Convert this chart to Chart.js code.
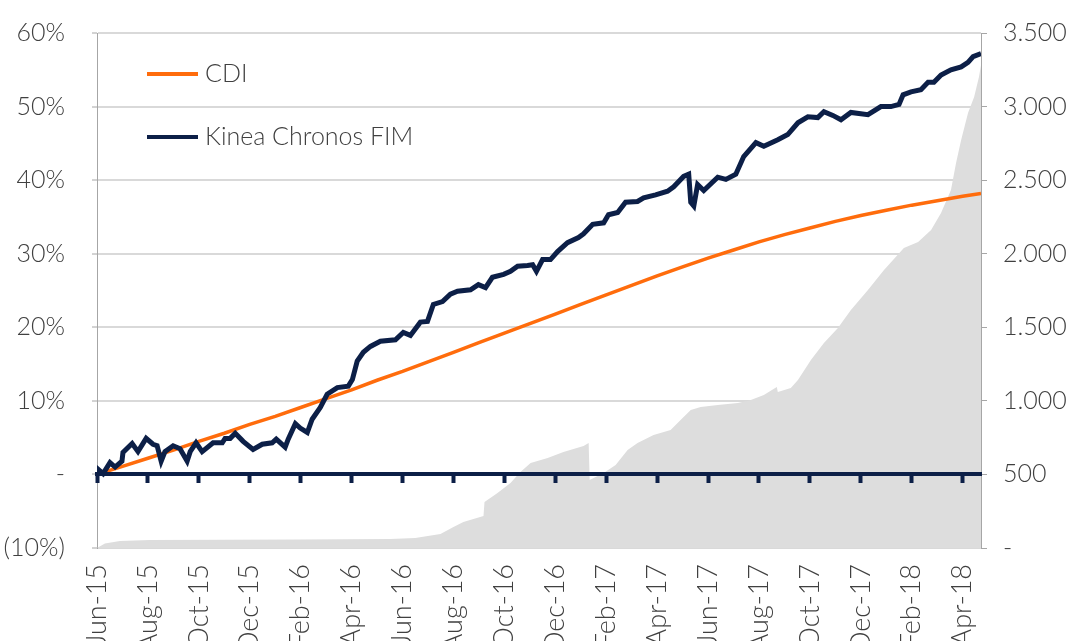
<!DOCTYPE html>
<html>
<head>
<meta charset="utf-8">
<script src="https://cdn.jsdelivr.net/npm/chart.js@4.4.0/dist/chart.umd.min.js"></script>
<style>
  html, body { margin: 0; padding: 0; background: #fff; overflow: hidden; }
  #wrap { position: relative; width: 1070px; height: 680px; }
</style>
</head>
<body>
<div id="wrap"><canvas id="chart"></canvas></div>
<script>
// x values are months counted from Jun-15
const tickMonths = [0, 2, 4, 6, 8, 10, 12, 14, 16, 18, 20, 22, 24, 26, 28, 30, 32, 34];
const tickLabels = ["Jun-15", "Aug-15", "Oct-15", "Dec-15", "Feb-16", "Apr-16", "Jun-16", "Aug-16", "Oct-16",
  "Dec-16", "Feb-17", "Apr-17", "Jun-17", "Aug-17", "Oct-17", "Dec-17", "Feb-18", "Apr-18"];
const lastMonth = 34.72;

// Kinea Chronos FIM, cumulative return (%)
const fundMonths = [0, 0.04, 0.24, 0.51, 0.71, 0.98, 1.02, 1.38, 1.61, 1.93, 2.2, 2.36, 2.52, 2.67, 2.99, 3.26, 3.54, 3.66,
  3.89, 4.13, 4.56, 4.92, 5.03, 5.23, 5.43, 5.74, 6.13, 6.49, 6.88, 7.04, 7.39, 7.51, 7.79, 7.98, 8.26, 8.45, 8.77, 9.04,
  9.44, 9.87, 10.03, 10.22, 10.46, 10.74, 11.13, 11.72, 12.03, 12.31, 12.7, 12.98, 13.21, 13.57, 13.88, 14.16, 14.67,
  14.98, 15.26, 15.53, 15.97, 16.24, 16.52, 16.91, 17.11, 17.26, 17.5, 17.81, 18.09, 18.48, 18.91, 19.11, 19.47, 19.9,
  20.09, 20.45, 20.76, 21.23, 21.47, 21.94, 22.41, 22.65, 23.04, 23.24, 23.32, 23.44, 23.59, 23.83, 24.38, 24.7, 25.09,
  25.4, 25.88, 26.19, 26.74, 27.13, 27.53, 27.92, 28.31, 28.55, 28.9, 29.22, 29.61, 30.28, 30.79, 31.18, 31.5, 31.66,
  31.97, 32.36, 32.64, 32.87, 33.15, 33.54, 33.94, 34.21, 34.41, 34.72];
const fundValues = [0, 0.7, 0.1, 1.6, 1.0, 1.8, 3.0, 4.2, 3.1, 4.9, 4.1, 3.9, 1.8, 3.1, 3.9, 3.5, 1.8, 3.1,
  4.3, 3.1, 4.3, 4.3, 4.9, 4.9, 5.6, 4.5, 3.4, 4.1, 4.3, 4.8, 3.7, 4.8, 6.9, 6.3, 5.7, 7.5, 9.1, 10.9,
  11.8, 12.0, 12.9, 15.4, 16.6, 17.4, 18.1, 18.3, 19.3, 18.9, 20.7, 20.8, 23.1, 23.5, 24.5, 24.9, 25.1,
  25.8, 25.4, 26.8, 27.2, 27.6, 28.3, 28.4, 28.5, 27.6, 29.2, 29.2, 30.3, 31.5, 32.2, 32.7, 34.0, 34.2,
  35.3, 35.6, 37.0, 37.1, 37.6, 38.0, 38.5, 39.1, 40.5, 40.8, 37.0, 36.5, 39.4, 38.6, 40.4, 40.1, 40.8,
  43.2, 45.1, 44.6, 45.5, 46.2, 47.8, 48.6, 48.5, 49.3, 48.8, 48.2, 49.2, 48.9, 50.0, 50.0, 50.3, 51.6,
  52.0, 52.3, 53.3, 53.3, 54.3, 55.0, 55.4, 56.0, 56.8, 57.2];

// CDI, cumulative return (%), monthly
const cdiMonths = [0, 1, 2, 3, 4, 5, 6, 7, 8, 9, 10, 11, 12, 13, 14, 15, 16, 17, 18, 19, 20, 21, 22, 23, 24, 25, 26,
  27, 28, 29, 30, 31, 32, 33, 34, 34.72];
const cdiValues = [0, 1.1, 2.2, 3.3, 4.5, 5.6, 6.8, 7.9, 9.1, 10.3, 11.5, 12.8, 14.0, 15.3, 16.6, 17.9, 19.2, 20.5,
  21.8, 23.1, 24.4, 25.7, 27.0, 28.2, 29.4, 30.5, 31.6, 32.6, 33.5, 34.4, 35.2, 35.9, 36.6, 37.2, 37.8, 38.2];

// Fund AUM (right axis, shaded area)
const aumMonths = [0, 0.31, 0.9, 2.08, 7.98, 11.52, 12.5, 13.49, 14.0, 14.39, 15.18, 15.22, 15.73, 16.24, 16.63, 17.03,
  17.7, 18.32, 19.11, 19.31, 19.35, 19.9, 20.37, 20.84, 21.23, 21.86, 22.53, 23.04, 23.32, 23.71, 24.38, 25.17, 25.68,
  26.19, 26.7, 26.74, 27.25, 27.53, 28.04, 28.55, 29.1, 29.61, 30.28, 30.91, 31.69, 32.25, 32.76, 33.15, 33.54, 33.74,
  33.94, 34.21, 34.45, 34.64, 34.72];
const aumValues = [0, 30, 48, 54, 58, 61, 68, 95, 143, 177, 217, 313, 374, 442, 517, 578,
  612, 652, 693, 714, 462, 510, 564, 666, 714, 768, 802, 890, 938, 958, 972, 985, 1006,
  1040, 1094, 1060, 1087, 1142, 1278, 1393, 1495, 1618, 1753, 1889, 2039, 2080, 2161, 2277, 2433, 2617,
  2773, 2956, 3065, 3201, 3280];

const orange = "#ff6c0c";
const navy = "#0c1f47";
const textColor = "#404040";
const fontFamily = "Lato, 'Liberation Sans', sans-serif";

const toPoints = (xs, ys) => xs.map((x, i) => ({ x, y: ys[i] }));
const setTicks = scale => { scale.ticks = tickMonths.map(v => ({ value: v })); };
const thousands = v => String(v).replace(/\B(?=(\d{3})+(?!\d))/g, ".");

// legend drawn inside the plot, top-left
const insideLegend = {
  id: "insideLegend",
  afterDatasetsDraw(chart) {
    const { ctx, chartArea } = chart;
    [chart.data.datasets[1], chart.data.datasets[2]].forEach((ds, i) => {
      const y = chartArea.top + 41 + i * 63;
      ctx.save();
      ctx.strokeStyle = ds.borderColor;
      ctx.lineWidth = 4;
      ctx.beginPath();
      ctx.moveTo(chartArea.left + 50, y);
      ctx.lineTo(chartArea.left + 101, y);
      ctx.stroke();
      ctx.fillStyle = textColor;
      ctx.font = "300 25px " + fontFamily;
      ctx.textBaseline = "middle";
      ctx.fillText(ds.label, chartArea.left + 108, y);
      ctx.restore();
    });
  }
};

new Chart(document.getElementById("chart"), {
  type: "line",
  data: {
    datasets: [
      {
        label: "AUM",
        data: toPoints(aumMonths, aumValues),
        yAxisID: "y2",
        fill: "origin",
        backgroundColor: "#dddddd",
        borderWidth: 0,
        pointRadius: 0,
        order: 3
      },
      {
        label: "CDI",
        data: toPoints(cdiMonths, cdiValues),
        yAxisID: "y",
        borderColor: orange,
        borderWidth: 3.5,
        pointRadius: 0,
        order: 2
      },
      {
        label: "Kinea Chronos FIM",
        data: toPoints(fundMonths, fundValues),
        yAxisID: "y",
        borderColor: navy,
        borderWidth: 5,
        pointRadius: 0,
        order: 1
      }
    ]
  },
  options: {
    responsive: true,
    maintainAspectRatio: false,
    animation: false,
    devicePixelRatio: 1,
    layout: { padding: { top: 33, left: 0, right: 0, bottom: 0 } },
    font: { family: fontFamily },
    plugins: {
      legend: { display: false },
      tooltip: { enabled: false }
    },
    scales: {
      x: {
        type: "linear",
        position: "bottom",
        min: 0,
        max: lastMonth,
        afterBuildTicks: setTicks,
        afterFit: s => { s.height = 680 - 548; },
        grid: { display: false },
        border: { display: false },
        ticks: {
          autoSkip: false,
          minRotation: 90,
          maxRotation: 90,
          padding: 8,
          color: textColor,
          font: { family: fontFamily, size: 27, weight: "300" },
          callback: v => tickLabels[tickMonths.indexOf(v)]
        }
      },
      // zero line with its tick marks, drawn over the shaded area
      x2: {
        type: "linear",
        axis: "x",
        position: { y: 0 },
        min: 0,
        max: lastMonth,
        afterBuildTicks: setTicks,
        afterFit: s => { s.height = 0; },
        grid: { drawOnChartArea: false, tickLength: 7, tickWidth: 4, tickColor: navy, z: 2 },
        border: { color: navy, width: 4, z: 2 },
        ticks: { display: false }
      },
      y: {
        position: "left",
        min: -10,
        max: 60,
        afterFit: s => { s.width = 97; s.paddingTop = 0; s.paddingBottom = 0; },
        grid: { color: "#d9d9d9", lineWidth: 2, tickLength: 5, tickColor: "#a6a6a6", tickWidth: 1 },
        border: { color: "#a6a6a6", width: 1 },
        ticks: {
          stepSize: 10,
          padding: 27,
          color: textColor,
          font: { family: fontFamily, size: 25, weight: "300" },
          callback: v => v === 0 ? "-" : v < 0 ? "(" + (-v) + "%)" : v + "%"
        }
      },
      y2: {
        position: "right",
        min: 0,
        max: 3500,
        afterFit: s => { s.width = 1070 - 981; s.paddingTop = 0; s.paddingBottom = 0; },
        grid: { drawOnChartArea: false, tickLength: 6, tickColor: "#a6a6a6", tickWidth: 1 },
        border: { color: "#a6a6a6", width: 1 },
        ticks: {
          stepSize: 500,
          padding: 16,
          color: textColor,
          font: { family: fontFamily, size: 25, weight: "300" },
          callback: v => v === 0 ? "-" : thousands(v)
        }
      }
    }
  },
  plugins: [insideLegend]
});
</script>
</body>
</html>
